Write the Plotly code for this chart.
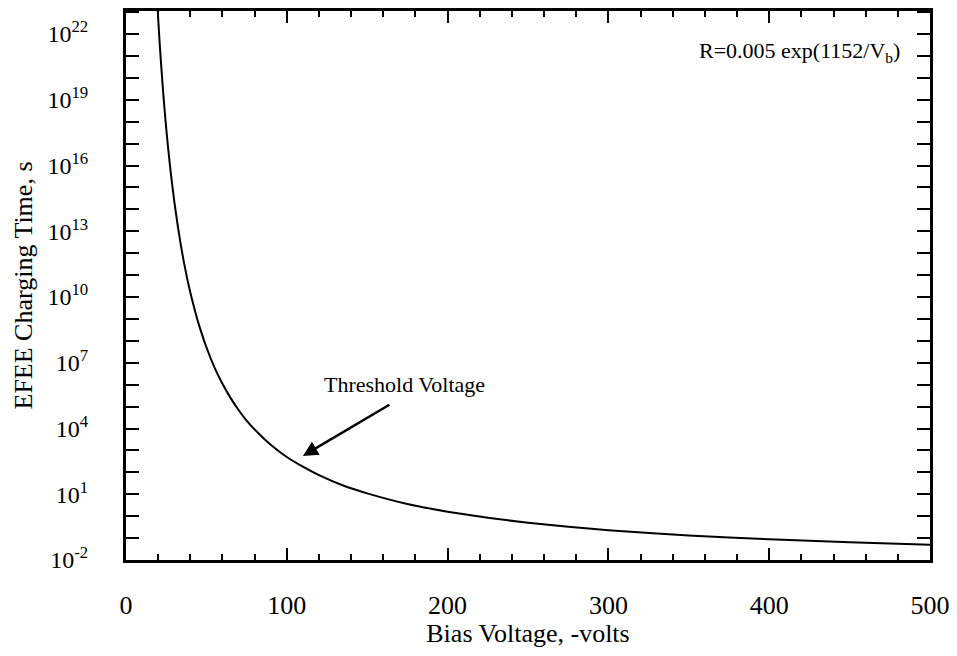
import plotly.graph_objects as go

# Bias voltage (-volts) and EFEE charging time (s)
bias_voltage = [19.5, 20, 20.5, 21, 21.5, 22, 23, 24, 25, 26, 27, 28, 30, 32, 34, 36, 38, 40,
                43, 46, 50, 55, 60, 65, 70, 75, 80, 90, 100, 110, 120, 135, 150, 175, 200,
                225, 250, 275, 300, 350, 400, 450, 500]
charging_time = [2.3e23, 5.2e22, 1.3e22, 3.3e21, 9.3e20, 2.8e20, 2.8e19, 3.5e18, 5.1e17, 8.7e16,
                 1.7e16, 3.7e15, 2.4e14, 2.2e13, 2.6e12, 3.9e11, 7.3e10, 1.6e10,
                 2.2e9, 3.8e8, 5.1e7, 6.2e6, 1.1e6, 2.5e5, 7.0e4, 2.3e4, 9.0e3, 1.8e3, 5.0e2,
                 1.8e2, 74, 25, 11, 3.6, 1.6, 0.84, 0.50, 0.33, 0.23, 0.13, 0.089, 0.065, 0.050]

y_label_exps = [-2, 1, 4, 7, 10, 13, 16, 19, 22]
y_tick_vals = [10.0 ** e for e in y_label_exps]
y_tick_text = [f"10<sup>{e}</sup>" for e in y_label_exps]
y_minor_vals = [10.0 ** e for e in range(-2, 24)]
x_tick_vals = [0, 100, 200, 300, 400, 500]

font_family = "Liberation Serif"

fig = go.Figure()
fig.add_trace(go.Scatter(
    x=bias_voltage, y=charging_time, mode="lines",
    line=dict(color="black", width=2, shape="spline", smoothing=0.5),
    showlegend=False,
))

fig.update_layout(
    width=949, height=640,
    margin=dict(l=118, r=27, t=0, b=88),
    paper_bgcolor="white", plot_bgcolor="white",
    font=dict(family=font_family, size=24, color="black"),
    xaxis=dict(
        range=[0, 500], tickvals=x_tick_vals, ticktext=[str(v) for v in x_tick_vals],
        ticks="inside", ticklen=12, tickwidth=2, tickcolor="black",
        minor=dict(dtick=20, ticks="inside", ticklen=6, tickwidth=2, tickcolor="black"),
        showline=True, linecolor="black", linewidth=3, mirror="ticks",
        showgrid=False, zeroline=False, ticklabelstandoff=20,
        tickfont=dict(size=26),
        title=dict(text="Bias Voltage, -volts", font=dict(size=26), standoff=7),
    ),
    yaxis=dict(
        type="log", range=[-2, 23.05],
        tickvals=y_tick_vals, ticktext=y_tick_text,
        ticks="inside", ticklen=13, tickwidth=2, tickcolor="black",
        minor=dict(tickvals=y_minor_vals, ticks="inside", ticklen=13, tickwidth=2,
                   tickcolor="black", showgrid=False),
        showline=True, linecolor="black", linewidth=3, mirror="ticks",
        showgrid=False, zeroline=False, ticklabelstandoff=30,
        tickfont=dict(size=24),
        title=dict(text="EFEE Charging Time, s", font=dict(size=26), standoff=8),
    ),
    annotations=[
        dict(x=0.965, y=0.925, xref="paper", yref="paper", xanchor="right", yanchor="middle",
             text="R=0.005 exp(1152/V<sub>b</sub>)", showarrow=False, font=dict(size=22)),
        dict(x=173, y=6.0, xref="x", yref="y", xanchor="center", yanchor="middle",
             text="Threshold Voltage", showarrow=False, font=dict(size=22)),
        dict(x=110, y=2.75, xref="x", yref="y", ax=88, ay=-52, text="",
             showarrow=True, arrowhead=2, arrowsize=1.2, arrowwidth=2.5, arrowcolor="black"),
    ],
)

fig.write_html("out.html")
